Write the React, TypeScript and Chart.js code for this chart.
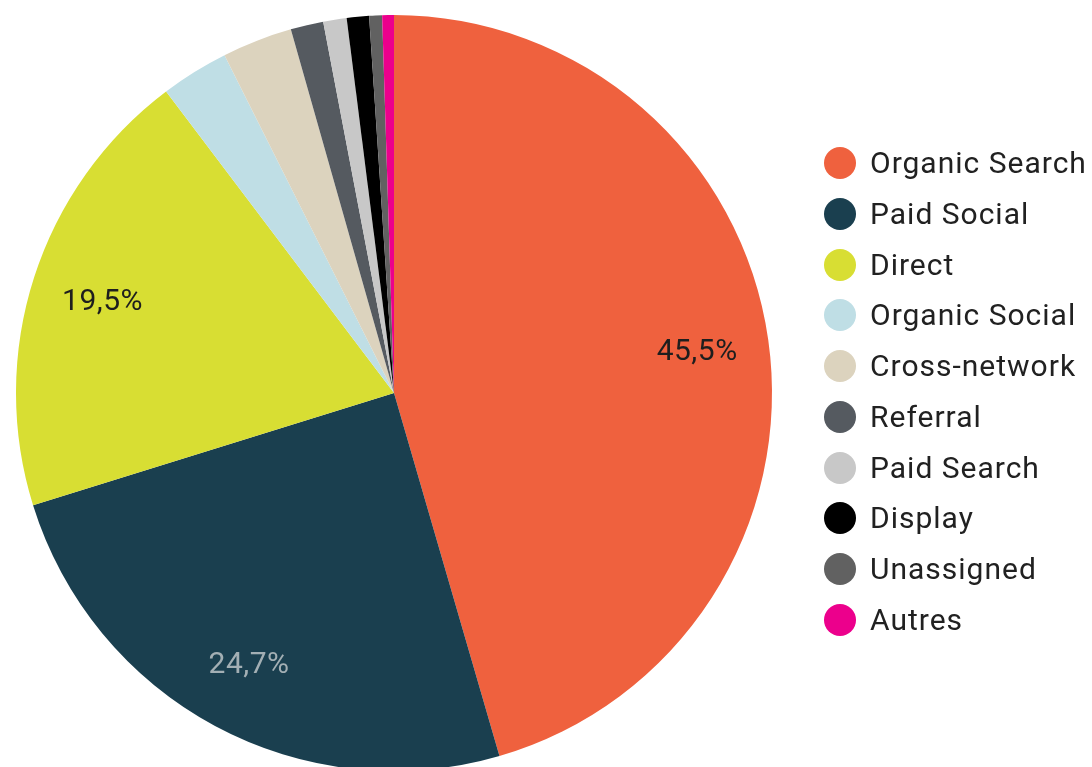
import React, { useEffect, useRef } from 'react';
import { Chart, registerables } from 'chart.js';

Chart.register(...registerables);

const channelLabels = [
  'Organic Search',
  'Paid Social',
  'Direct',
  'Organic Social',
  'Cross-network',
  'Referral',
  'Paid Search',
  'Display',
  'Unassigned',
  'Autres',
];

const channelShares = [45.5, 24.7, 19.5, 2.9, 3.0, 1.4, 1.0, 0.95, 0.55, 0.5];

const channelColors = [
  '#EF613E',
  '#1A3F4F',
  '#D8DE33',
  '#BFDEE5',
  '#DCD3BE',
  '#555A60',
  '#C8C8C8',
  '#000000',
  '#616161',
  '#EC008C',
];

const valueLabelColors = [
  '#1E1E1E',
  '#A3AFB4',
  '#1E1E1E',
  '#1E1E1E',
  '#1E1E1E',
  '#FFFFFF',
  '#1E1E1E',
  '#FFFFFF',
  '#FFFFFF',
  '#FFFFFF',
];

const labelThreshold = 5;

const formatShare = (v: number) => v.toFixed(1).replace('.', ',') + '%';

const sliceLabelPlugin = {
  id: 'sliceLabels',
  afterDatasetsDraw(chart: any) {
    const meta = chart.getDatasetMeta(0);
    const ctx = chart.ctx;
    ctx.save();
    ctx.font = '30px Roboto';
    try {
      (ctx as any).letterSpacing = '0.5px';
    } catch (e) {}
    ctx.textAlign = 'center';
    ctx.textBaseline = 'middle';
    meta.data.forEach((arc: any, i: number) => {
      const v = channelShares[i];
      if (v < labelThreshold) return;
      const { x, y, startAngle, endAngle, outerRadius } = arc.getProps(
        ['x', 'y', 'startAngle', 'endAngle', 'outerRadius'],
        true
      );
      const mid = (startAngle + endAngle) / 2;
      const r = outerRadius * 0.81;
      ctx.fillStyle = valueLabelColors[i];
      ctx.fillText(formatShare(v), x + Math.cos(mid) * r, y + Math.sin(mid) * r + 3);
    });
    ctx.restore();
  },
};

export default function App() {
  const canvasRef = useRef<HTMLCanvasElement | null>(null);

  useEffect(() => {
    if (!canvasRef.current) return;
    const chart = new Chart(canvasRef.current, {
      type: 'pie',
      data: {
        labels: channelLabels,
        datasets: [
          {
            data: channelShares,
            backgroundColor: channelColors,
            borderWidth: 0,
            hoverOffset: 0,
          },
        ],
      },
      options: {
        responsive: false,
        maintainAspectRatio: false,
        animation: false,
        devicePixelRatio: 1,
        layout: { padding: { left: 16, right: 320, top: 15, bottom: 15 } },
        plugins: {
          legend: { display: false },
          tooltip: { enabled: false },
        },
      },
      plugins: [sliceLabelPlugin],
    });
    return () => chart.destroy();
  }, []);

  const rowH = 50.74;
  const firstCenter = 163.3;

  return (
    <div
      style={{
        position: 'absolute',
        left: 0,
        top: 0,
        width: 1092,
        height: 767,
        overflow: 'hidden',
        background: '#ffffff',
      }}
    >
      <canvas ref={canvasRef} width={1092} height={786} style={{ display: 'block' }} />
      <div
        style={{
          position: 'absolute',
          left: 824,
          top: firstCenter - rowH / 2,
          fontFamily: 'Roboto, sans-serif',
          fontSize: 30,
          letterSpacing: '1px',
          color: '#212121',
        }}
      >
        {channelLabels.map((name, i) => (
          <div
            key={name}
            style={{
              height: rowH,
              display: 'flex',
              alignItems: 'center',
              whiteSpace: 'nowrap',
            }}
          >
            <span
              style={{
                display: 'inline-block',
                width: 32,
                height: 32,
                borderRadius: '50%',
                background: channelColors[i],
                marginRight: 14,
                flex: '0 0 auto',
              }}
            />
            <span style={{ lineHeight: '32px' }}>{name}</span>
          </div>
        ))}
      </div>
    </div>
  );
}
